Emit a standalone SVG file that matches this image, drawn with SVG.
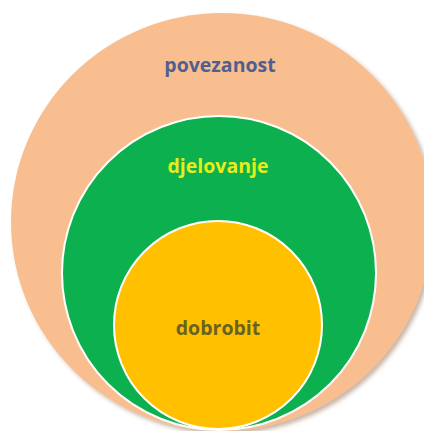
<svg xmlns="http://www.w3.org/2000/svg" width="424" height="431" viewBox="0 0 424 431">
<defs>
<filter id="sh" x="-10%" y="-10%" width="130%" height="130%">
<feDropShadow dx="3" dy="3" stdDeviation="2" flood-color="#8a5a3a" flood-opacity="0.45"/>
</filter>
</defs>
<style>
.lbl{font-family:"Open Sans","Liberation Sans",sans-serif;font-weight:700;font-size:19.5px;text-anchor:middle}
</style>
<rect width="424" height="431" fill="#ffffff"/>
<g id="povezanost">
<ellipse cx="222" cy="222" rx="211" ry="209" fill="#F8BE8F" filter="url(#sh)"/>
<text class="lbl" x="220" y="72" fill="#4F6090">povezanost</text>
</g>
<g id="djelovanje">
<circle cx="219" cy="273" r="157" fill="#0DB04F" stroke="#ffffff" stroke-width="2"/>
<text class="lbl" x="218" y="173" fill="#E4EE1A">djelovanje</text>
</g>
<g id="dobrobit">
<circle cx="218" cy="325" r="104" fill="#FFC000" stroke="#ffffff" stroke-width="2"/>
<text class="lbl" x="218" y="335" fill="#6A6224">dobrobit</text>
</g>
<g id="connectors"/>
</svg>
